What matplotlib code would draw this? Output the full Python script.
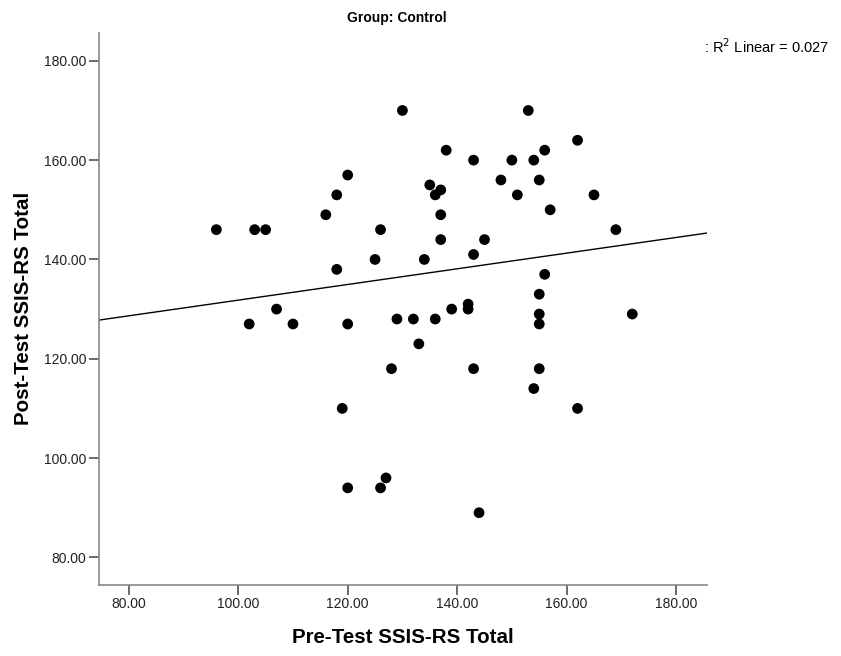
import numpy as np
import matplotlib
matplotlib.use("Agg")
import matplotlib.pyplot as plt

plt.rcParams['font.family'] = ['Liberation Sans', 'DejaVu Sans']

# Data
pre_test = [96, 103, 105, 102, 107, 110, 116, 118, 118, 120, 120, 119, 120, 125,
            126, 126, 127, 128, 129, 130, 132, 133, 134, 135, 136, 137, 137, 137,
            136, 138, 139, 142, 142, 143, 143, 143, 144, 145, 148, 150, 151, 153,
            154, 155, 156, 157, 156, 155, 155, 155, 155, 154, 162, 165, 169, 172, 162]
post_test = [146, 146, 146, 127, 130, 127, 149, 153, 138, 157, 127, 110, 94, 140,
             146, 94, 96, 118, 128, 170, 128, 123, 140, 155, 153, 154, 149, 144,
             128, 162, 130, 131, 130, 160, 141, 118, 89, 144, 156, 160, 153, 170,
             160, 156, 162, 150, 137, 133, 129, 127, 118, 114, 164, 153, 146, 129, 110]

x_ticks = [80, 100, 120, 140, 160, 180]
y_ticks = [80, 100, 120, 140, 160, 180]
x_range = [74.5, 185.6]
y_range = [74.5, 185.6]

title = "Group: Control"
x_label = "Pre-Test SSIS-RS Total"
y_label = "Post-Test SSIS-RS Total"
r2_label = ": R$^2$ Linear = 0.027"

W, H = 841, 656
fig = plt.figure(figsize=(W / 100, H / 100), dpi=100)
ax = fig.add_axes([98.7 / W, 1 - 584.7 / H, (706.7 - 98.7) / W, (584.7 - 33) / H])

ax.scatter(pre_test, post_test, s=60, color='black', edgecolors='none', zorder=3)

slope, intercept = np.polyfit(pre_test, post_test, 1)
xs = np.array(x_range)
ax.plot(xs, intercept + slope * xs, color='black', linewidth=1.0, zorder=2)

ax.set_xlim(*x_range)
ax.set_ylim(*y_range)
ax.set_xticks(x_ticks)
ax.set_yticks(y_ticks)
ax.set_xticklabels([f"{v:.2f}" for v in x_ticks])
ax.set_yticklabels([f"{v:.2f}" for v in y_ticks])

for s in ['top', 'right']:
    ax.spines[s].set_visible(False)
for s in ['left', 'bottom']:
    ax.spines[s].set_color('#888888')
    ax.spines[s].set_linewidth(1.2)
ax.tick_params(axis='both', direction='out', length=7, width=1.2, color='#555555',
               labelsize=10, labelcolor='#222222', pad=2)

ax.set_xlabel(x_label, fontsize=14.8, fontweight='bold', labelpad=12)
ax.set_ylabel(y_label, fontsize=14.8, fontweight='bold', labelpad=8)

fig.text(397 / W, 1 - 18 / H, title, ha='center', va='center', fontsize=10, fontweight='bold')
fig.text(829 / W, 1 - 47 / H, r2_label, ha='right', va='center', fontsize=10.5)

fig.savefig("out.png", dpi=100)
